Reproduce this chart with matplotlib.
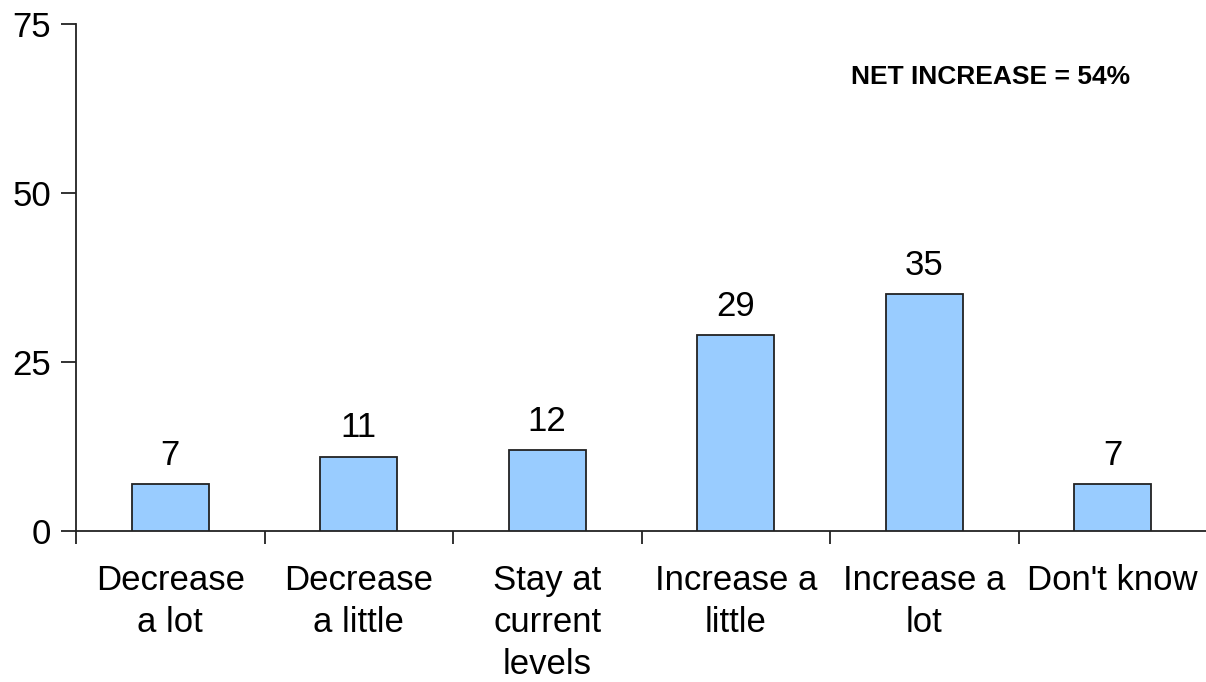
import matplotlib
matplotlib.use("Agg")
import matplotlib.pyplot as plt
import numpy as np

categories = ["Decrease\na lot", "Decrease\na little", "Stay at\ncurrent\nlevels",
              "Increase a\nlittle", "Increase a\nlot", "Don't know"]
values = [7, 11, 12, 29, 35, 7]
yticks = [0, 25, 50, 75]
note = "NET INCREASE = 54%"

plt.rcParams['font.family'] = ['Liberation Sans', 'DejaVu Sans']

fig = plt.figure(figsize=(12.06, 6.82), dpi=100)
W, H = 1206, 682
ax = fig.add_axes([76 / W, (H - 531) / H, (1207 - 76) / W, (531 - 24) / H])

x = np.arange(len(categories))
ax.bar(x, values, width=0.41, color="#99CCFF", edgecolor="#222222", linewidth=1.3, zorder=3)
for xi, v in zip(x, values):
    ax.text(xi, v + 1.8, str(v), ha="center", va="bottom", fontsize=25)

ax.set_xlim(-0.5, len(categories) - 0.5)
ax.set_ylim(0, 75)
ax.set_yticks(yticks)
ax.set_yticklabels([str(t) for t in yticks], fontsize=25)
ax.set_xticks(x)
ax.set_xticklabels(categories, fontsize=25, linespacing=1.34, va="top")
ax.tick_params(axis="x", which="major", length=0, pad=24)
ax.set_xticks(np.arange(len(categories) + 1) - 0.5, minor=True)
ax.tick_params(axis="x", which="minor", length=9, width=1.3, direction="out", color="#222222")
ax.tick_params(axis="y", length=11, width=1.3, direction="out", color="#222222", pad=7)

for s in ["top", "right"]:
    ax.spines[s].set_visible(False)
for s in ["left", "bottom"]:
    ax.spines[s].set_linewidth(1.3)
    ax.spines[s].set_color("#222222")
ax.spines["bottom"].set_bounds(-0.5, len(categories) - 0.5)

fig.text(991 / W, (H - 77) / H, note, fontsize=19, fontweight="bold",
         ha="center", va="center")

fig.savefig("out.png", dpi=100)
